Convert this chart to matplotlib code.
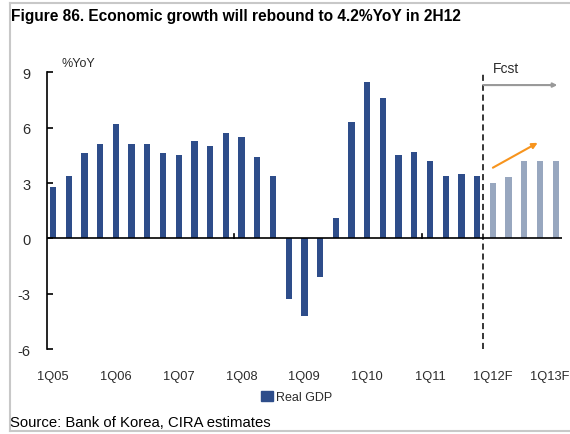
import matplotlib
matplotlib.use("Agg")
import matplotlib.pyplot as plt
import matplotlib.transforms as mtransforms
from matplotlib.lines import Line2D
from matplotlib.patches import Patch
import numpy as np

years = ["05", "06", "07", "08", "09", "10", "11"]
quarters = ["1Q", "2Q", "3Q", "4Q"]
actual_labels = [q + y for y in years for q in quarters]
actual_values = [2.8, 3.4, 4.6, 5.1,
                 6.2, 5.1, 5.1, 4.6,
                 4.5, 5.3, 5.0, 5.7,
                 5.5, 4.4, 3.4, -3.3,
                 -4.2, -2.1, 1.1, 6.3,
                 8.5, 7.6, 4.5, 4.7,
                 4.2, 3.4, 3.5, 3.4]
fcst_labels = ["1Q12F", "2Q12F", "3Q12F", "4Q12F", "1Q13F"]
fcst_values = [3.0, 3.3, 4.2, 4.2, 4.2]
tick_labels = ["1Q05", "1Q06", "1Q07", "1Q08", "1Q09", "1Q10", "1Q11", "1Q12F", "1Q13F"]
yticks = [-6, -3, 0, 3, 6, 9]

NAVY = "#2E4D8A"
LIGHT = "#98A7BF"
ORANGE = "#F7941D"
TXT = "#2b2b2b"
NARROW = ["Liberation Sans Narrow", "Liberation Sans", "DejaVu Sans"]

fig = plt.figure(figsize=(5.7, 4.35), dpi=100)
ax = fig.add_axes([0.0825, 0.1954, 0.9035, 0.636])

n_act = len(actual_values)
x_act = np.arange(n_act)
x_fc = np.arange(n_act, n_act + len(fcst_values))
ax.bar(x_act, actual_values, width=0.4, color=NAVY, label="Real GDP")
ax.bar(x_fc, fcst_values, width=0.4, color=LIGHT)

ax.set_xlim(-0.38, n_act + len(fcst_values) - 1 + 0.4)
ax.set_ylim(-6, 9)
ax.axhline(0, color="black", lw=1.2, zorder=3)
# small year-group ticks on the zero line
for b in [11.5, 23.5]:
    ax.plot([b, b], [0, 0.25], color="black", lw=1.2, zorder=3)

all_labels = actual_labels + fcst_labels
tick_pos = [all_labels.index(t) for t in tick_labels]
ax.set_xticks(tick_pos)
ax.set_xticklabels(tick_labels, family=NARROW, fontsize=9.3, color=TXT)
ax.tick_params(axis="x", length=0, pad=15)
last = ax.get_xticklabels()[-1]
last.set_transform(last.get_transform() +
                   mtransforms.ScaledTranslation(-6 / 100, 0, fig.dpi_scale_trans))
ax.set_yticks(yticks)
ax.set_yticklabels([str(v) for v in yticks], family=NARROW, fontsize=10.5, color=TXT)
ax.tick_params(axis="y", direction="in", length=4.5, width=1.2, pad=12)

for s in ["top", "right", "bottom"]:
    ax.spines[s].set_visible(False)
ax.spines["left"].set_linewidth(1.2)

# forecast divider
div = n_act - 0.6
ax.plot([div, div], [-6, 8.9], color="black", ls=(0, (4, 2.5)), lw=1.1, clip_on=False)
ax.annotate("", xy=(32.1, 8.31), xytext=(div, 8.31),
            arrowprops=dict(arrowstyle="-|>", color="#999999", lw=1.5,
                            mutation_scale=6, shrinkA=0, shrinkB=0),
            annotation_clip=False)
ax.text(div + 0.6, 9.25, "Fcst", family=NARROW, fontsize=10, color=TXT,
        ha="left", va="center", clip_on=False)
ax.annotate("", xy=(30.85, 5.18), xytext=(28.0, 3.83),
            arrowprops=dict(arrowstyle="-|>", color=ORANGE, lw=1.5,
                            mutation_scale=8, shrinkA=0, shrinkB=0))

fig.text(62 / 570, 1 - 64 / 435, "%YoY", family=NARROW, fontsize=9,
         color=TXT, ha="left", va="center")

fig.text(11 / 570, 1 - 17 / 435, "Figure 86. Economic growth will rebound to 4.2%YoY in 2H12",
         family=NARROW, fontsize=11.2, fontweight="bold", color="black",
         ha="left", va="center")
fig.text(10 / 570, 1 - 423 / 435, "Source: Bank of Korea, CIRA estimates",
         family=["Liberation Sans", "DejaVu Sans"], fontsize=10.7, color="black",
         ha="left", va="center")

leg = fig.legend(handles=[Patch(color=NAVY, label="Real GDP")],
                 loc="center", bbox_to_anchor=(297 / 570, 1 - 398 / 435),
                 frameon=False, prop=dict(family=NARROW, size=9),
                 handlelength=0.9, handleheight=0.9, handletextpad=0.3)
for t in leg.get_texts():
    t.set_color(TXT)

# frame lines
gray = "#c8c8c8"
fig.add_artist(Line2D([10 / 570, 10 / 570], [1 - 4 / 435, 1 - 432 / 435],
                      transform=fig.transFigure, color=gray, lw=1.5))
fig.add_artist(Line2D([10 / 570, 1], [1 - 4 / 435, 1 - 4 / 435],
                      transform=fig.transFigure, color=gray, lw=1.5))
fig.add_artist(Line2D([10 / 570, 1], [1 - 432 / 435, 1 - 432 / 435],
                      transform=fig.transFigure, color=gray, lw=1.5))

fig.savefig("out.png", dpi=100)
